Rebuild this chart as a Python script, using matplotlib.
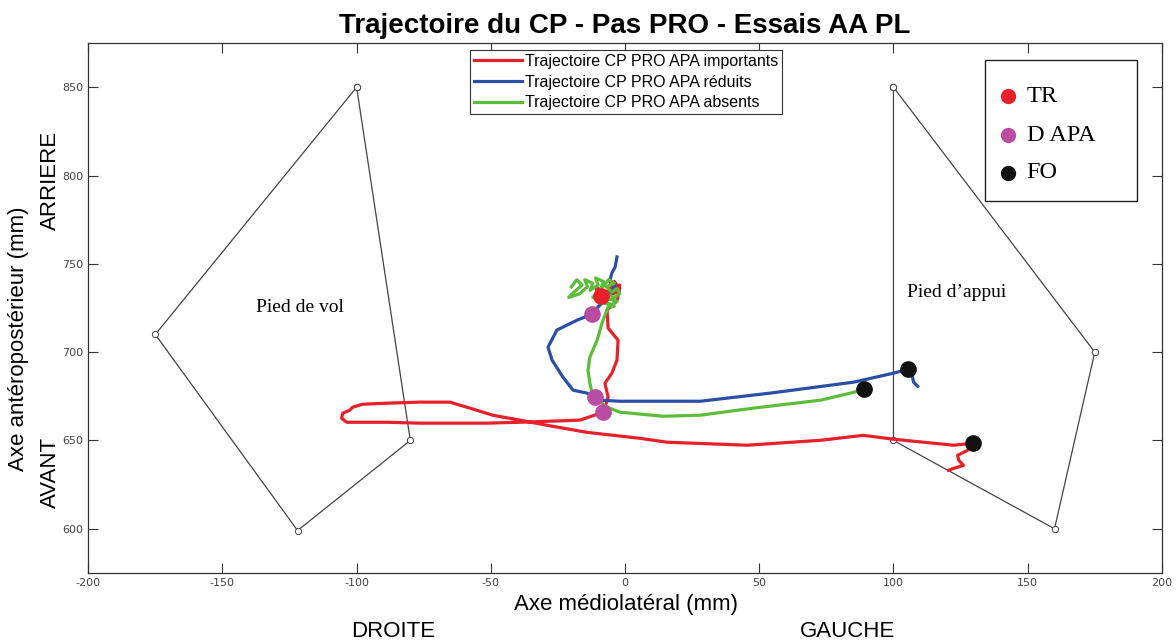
import matplotlib
matplotlib.use("Agg")
import matplotlib.pyplot as plt
from matplotlib.patches import Rectangle

plt.rcParams["axes.unicode_minus"] = False

# foot outlines (mm)
pied_vol_x = [-100, -80, -122, -175, -100]
pied_vol_y = [850, 650, 599, 710, 850]
pied_appui_x = [100, 175, 160, 100, 100]
pied_appui_y = [850, 700, 600, 650, 850]

# CP trajectory - APA importants
red_x = [-6, -4, -8, -3, -2, -5, -9, -11, -7, -4, -2, -3, -6.7, -6.3, -2.6, -3.0, -4.9, -7.5, -6.3,
         -7.5, -8.2, -16.8, -39.2, -51.5, -64.2, -76.5, -88.8, -103.7, -105.6, -105.2, -102.6,
         -101.5, -97.8, -88.8, -76.5, -65.3, -57.8, -49.3, -39.2, -29.1, -14.2, 5.6, 15.7, 45.5,
         72.8, 88.8, 100.0, 122.4, 129.5, 127.6, 123.9, 124.3, 126.1, 122.4, 120.5]
red_y = [741, 736, 731, 734, 738, 735, 729, 737, 733, 740, 736, 729, 723.8, 713.6, 706.8, 695.5,
         688.1, 682.4, 674.5, 668.8, 666.0, 661.5, 660.3, 659.8, 659.8, 659.8, 660.3, 660.3,
         662.6, 665.4, 667.1, 668.8, 670.5, 671.1, 671.7, 671.7, 668.3, 664.3, 661.5, 658.6,
         654.6, 651.2, 649.0, 647.3, 650.1, 652.9, 650.7, 647.3, 648.4, 644.4, 641.6, 638.8,
         635.9, 634.2, 633.1]

# CP trajectory - APA reduits
blue_x = [-3.0, -3.7, -4.9, -5.6, -3.7, -4.9, -7.5, -10.1, -12.3, -17.9, -25.4, -28.7, -27.2,
          -23.1, -19.4, -14.2, -11.2, -9.3, -1.9, 28.0, 54.1, 85.1, 100.0, 105.6, 107.1, 107.5, 109.0]
blue_y = [753.9, 748.2, 744.8, 740.8, 738.0, 734.0, 729.5, 725.5, 721.5, 718.1, 712.5, 702.8,
          695.5, 685.8, 678.5, 676.8, 674.5, 672.8, 672.2, 672.2, 676.8, 683.0, 688.1, 690.4,
          685.8, 683.0, 680.7]

# CP trajectory - APA absents
green_x = [-20, -18, -16, -19, -21, -17, -14, -15, -12, -13, -10, -11, -8, -9, -6, -4, -7, -5,
           -3, -2, -4, -7, -10, -12, -9, -6, -3, -5, -8, -4, -6.3, -8.6, -10.4, -13.1, -13.8,
           -13.1, -12.3, -11.2, -6.7, -1.9, 14.2, 28.0, 47.8, 72.8, 84.0, 89.2]
green_y = [737, 741, 738, 734, 731, 733, 737, 741, 739, 735, 738, 742, 740, 736, 741, 739, 737,
           734, 736, 733, 731, 733, 734, 731, 729, 730, 729, 727, 728, 726, 725.5, 716.4, 706.8,
           697.2, 689.8, 682.4, 676.8, 674.5, 668.8, 666.0, 663.7, 664.3, 668.3, 672.8, 676.8, 679.0]

# events
tr_x, tr_y = [-9], [732]
dapa_x = [-12.3, -11.2, -8.2]
dapa_y = [721.5, 674.5, 666.0]
fo_x = [105.6, 89.2, 129.5]
fo_y = [690.4, 679.0, 648.4]

event_labels = ["TR", "D APA", "FO"]

RED = "#e8202a"
BLUE = "#2b4ea6"
GREEN = "#5cbd3a"
MAGENTA = "#b94ca3"
BLACK = "#111111"

fig = plt.figure(figsize=(11.76, 6.43), dpi=100)
ax = fig.add_axes([0.075, 0.109, 0.913, 0.824])

ax.plot(pied_vol_x, pied_vol_y, color="#444444", lw=0.9, marker="o", ms=4.5, mfc="white", mec="#444444", mew=0.7)
ax.plot(pied_appui_x, pied_appui_y, color="#444444", lw=0.9, marker="o", ms=4.5, mfc="white", mec="#444444", mew=0.7)

l1, = ax.plot(red_x, red_y, color=RED, lw=2.3, label="Trajectoire CP PRO APA importants")
l2, = ax.plot(blue_x, blue_y, color=BLUE, lw=2.3, label="Trajectoire CP PRO APA réduits")
l3, = ax.plot(green_x, green_y, color=GREEN, lw=2.3, label="Trajectoire CP PRO APA absents")

ax.plot(tr_x, tr_y, "o", color=RED, ms=11, zorder=5)
ax.plot(dapa_x, dapa_y, "o", color=MAGENTA, ms=11, zorder=5)
ax.plot(fo_x, fo_y, "o", color=BLACK, ms=11, zorder=5)

ax.text(-121, 725, "Pied de vol", family="Liberation Serif", fontsize=14, ha="center", va="center")
ax.text(105, 734, "Pied d\u2019appui", family="Liberation Serif", fontsize=14, ha="left", va="center")

ax.set_xlim(-200, 200)
ax.set_ylim(575, 875)
ax.set_xticks(range(-200, 201, 50))
ax.set_yticks(range(600, 851, 50))
ax.tick_params(direction="in", length=7, width=0.8, top=True, right=True,
               labelsize=8, labelcolor="#444444", color="#333333")
for s in ax.spines.values():
    s.set_color("#333333")
    s.set_linewidth(0.9)

ax.set_title("Trajectoire du CP - Pas PRO - Essais AA PL", fontsize=20, fontweight="bold",
             family="Liberation Sans", pad=7)

fig.text(0.532, 0.06, "Axe médiolatéral (mm)", family="Liberation Sans", fontsize=16, ha="center", va="center")
fig.text(0.334, 0.018, "DROITE", family="Liberation Sans", fontsize=16, ha="center", va="center")
fig.text(0.721, 0.018, "GAUCHE", family="Liberation Sans", fontsize=16, ha="center", va="center")
fig.text(0.016, 0.473, "Axe antéropostérieur (mm)", family="Liberation Sans", fontsize=16,
         rotation=90, ha="center", va="center")
fig.text(0.043, 0.72, "ARRIERE", family="Liberation Sans", fontsize=16, rotation=90, ha="center", va="center")
fig.text(0.043, 0.265, "AVANT", family="Liberation Sans", fontsize=16, rotation=90, ha="center", va="center")

leg1 = ax.legend(handles=[l1, l2, l3], loc="upper center", bbox_to_anchor=(0.501, 0.987),
                 fancybox=False, framealpha=1, edgecolor="#333333",
                 prop={"family": "Liberation Sans", "size": 11.5}, handlelength=3.0,
                 handletextpad=0.2, borderpad=0.25, labelspacing=0.35, borderaxespad=0)
leg1.get_frame().set_linewidth(0.8)

# event key box, drawn in axes coordinates
ax.add_patch(Rectangle((0.835, 0.702), 0.142, 0.266, transform=ax.transAxes,
                       facecolor="white", edgecolor="#222222", lw=1.0, zorder=6))
key_y = [0.900, 0.826, 0.755]
for lab, col, ky in zip(event_labels, [RED, MAGENTA, BLACK], key_y):
    ax.plot([0.8566], [ky], "o", color=col, ms=10, transform=ax.transAxes, zorder=7)
    ax.text(0.874, ky, lab, family="Liberation Serif", fontsize=17.5, va="center", ha="left",
            transform=ax.transAxes, zorder=7)

fig.savefig("out.png", dpi=100)
